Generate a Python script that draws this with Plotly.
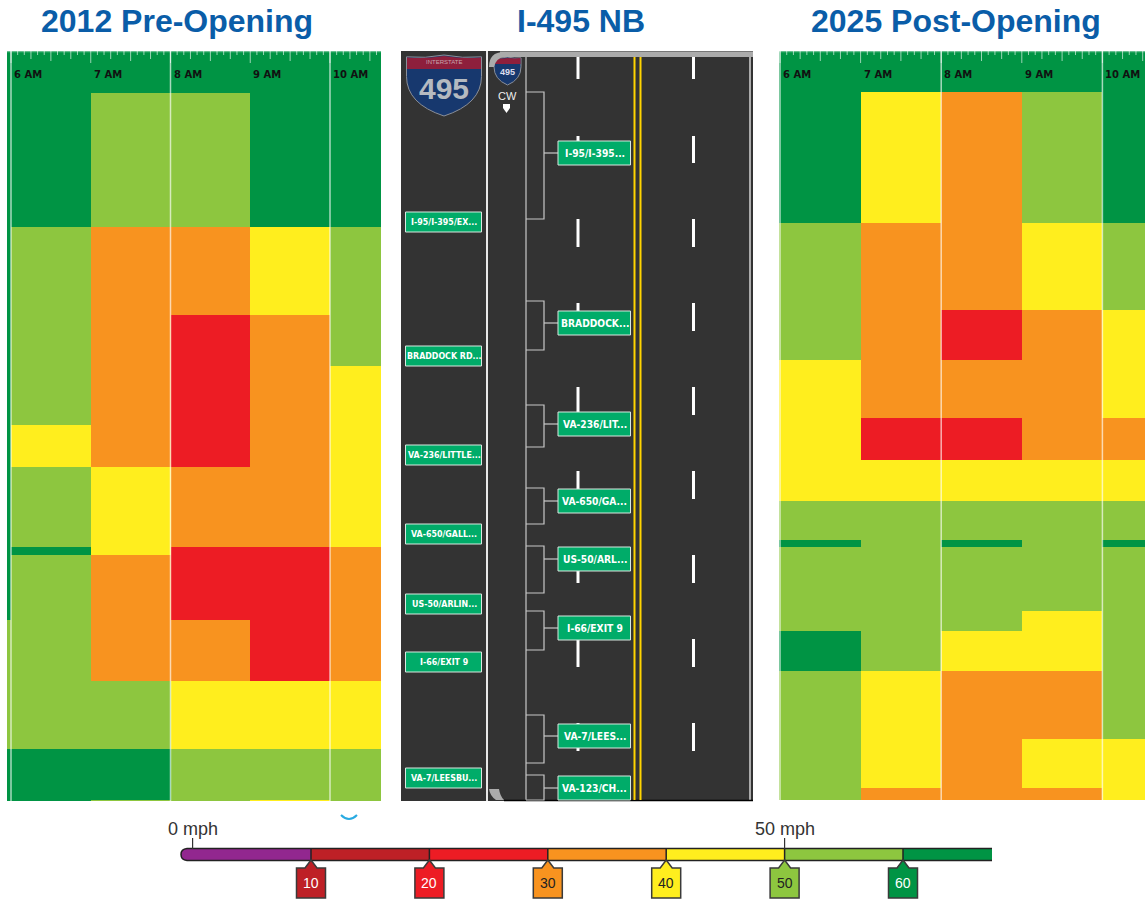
import plotly.graph_objects as go

W, H = 1145, 901
HOURS = [6, 7, 8, 9, 10]
HOUR_LABELS = ["6 AM", "7 AM", "8 AM", "9 AM", "10 AM"]
C_PURPLE, C_DKRED, C_RED, C_ORANGE, C_YELLOW, C_LTGREEN, C_GREEN = (
    "#92278F", "#BE2026", "#ED1C24", "#F8931F", "#FFEE1E", "#8DC63F", "#009444")
BIN_COLORS = [C_PURPLE, C_DKRED, C_RED, C_ORANGE, C_YELLOW, C_LTGREEN, C_GREEN]

# Speeds (mph, bin mid-point) by road position; each hour column: row ends + speeds
PRE_EARLY_ENDS = [569, 698, 750]
PRE_EARLY_MPH = [65, 55, 65]
PRE_6_ENDS = [176, 374, 416, 496, 504, 698, 750]
PRE_6_MPH = [65, 55, 45, 55, 65, 55, 65]
PRE_7_ENDS = [42, 176, 416, 504, 630, 698, 749, 750]
PRE_7_MPH = [65, 55, 35, 45, 35, 55, 65, 55]
PRE_8_ENDS = [42, 176, 264, 416, 496, 569, 630, 698, 750]
PRE_8_MPH = [65, 55, 35, 25, 35, 25, 35, 45, 55]
PRE_9_ENDS = [176, 264, 496, 630, 698, 749, 750]
PRE_9_MPH = [65, 45, 35, 25, 45, 55, 45]
PRE_10_ENDS = [176, 315, 496, 630, 698, 750]
PRE_10_MPH = [65, 55, 45, 35, 45, 55]

POST_6_ENDS = [172, 309, 450, 489, 496, 580, 620, 749]
POST_6_MPH = [65, 55, 45, 55, 65, 55, 65, 55]
POST_7_ENDS = [41, 172, 367, 409, 450, 620, 737, 749]
POST_7_MPH = [65, 45, 35, 25, 45, 55, 45, 35]
POST_8_ENDS = [41, 259, 309, 367, 409, 450, 489, 496, 580, 620, 749]
POST_8_MPH = [65, 35, 25, 35, 25, 45, 55, 65, 55, 45, 35]
POST_9_ENDS = [41, 172, 259, 409, 450, 560, 620, 688, 737, 749]
POST_9_MPH = [65, 55, 45, 35, 45, 55, 45, 35, 45, 35]
POST_10_ENDS = [172, 259, 367, 409, 450, 489, 496, 688, 749]
POST_10_MPH = [65, 55, 45, 35, 45, 55, 65, 55, 45]

# Road diagram
LEFT_SIGN_TEXT = ["I-95/I-395/EX...", "BRADDOCK RD...", "VA-236/LITTLE...", "VA-650/GALL...",
                  "US-50/ARLIN...", "I-66/EXIT 9", "VA-7/LEESBU..."]
LEFT_SIGN_POS = [222, 356, 455, 534, 604, 662, 778]
RIGHT_SIGN_TEXT = ["I-95/I-395...", "BRADDOCK...", "VA-236/LIT...", "VA-650/GA...",
                   "US-50/ARL...", "I-66/EXIT 9", "VA-7/LEES...", "VA-123/CH..."]
RIGHT_SIGN_POS = [153, 323, 424, 501, 559, 628, 736, 788]
BRACKET_TOP = [92, 301, 405, 488, 546, 611, 715, 775]
BRACKET_BOT = [219, 350, 447, 524, 593, 650, 763, 800]
DASH_TOP = [51, 136, 219, 303, 387, 471, 555, 639, 723]
DASH_BOT = [79, 163, 247, 331, 415, 499, 583, 667, 751]

# Speed legend
LEGEND_EDGES = [-0.98, 10, 20, 30, 40, 50, 60, 67.5]
LEGEND_MIDS = [5, 15, 25, 35, 45, 55, 65]
LEGEND_TICKS = [10, 20, 30, 40, 50, 60]
LEGEND_TICK_LABEL_COLORS = ["white", "white", "#222", "#222", "#222", "white"]
LEGEND_MARKS = [0, 50]
LEGEND_MARK_TEXT = ["0 mph", "50 mph"]


def matrix(columns):
    edges = sorted({0} | {e for ends, _ in columns for e in ends})
    z = []
    for lo in edges[:-1]:
        row = []
        for ends, mph in columns:
            row.append(next(v for e, v in zip(ends, mph) if lo < e))
        z.append(row)
    return edges, z


def colorscale():
    out = []
    for i, c in enumerate(BIN_COLORS):
        out += [[i / 7, c], [(i + 1) / 7, c]]
    return out


def hx(px):
    return px / W


def vy(px):
    return 1 - px / H


fig = go.Figure()
SCALE = colorscale()

# Panel geometry in canvas pixels
PANELS = [
    dict(x0=7, x1=381, y1=801, six=11, per=79.75, ax="x", ay="y"),
    dict(x0=779, x1=1145, y1=800, six=780, per=80.6, ax="x2", ay="y2"),
]
pre_cols = [(PRE_EARLY_ENDS, PRE_EARLY_MPH), (PRE_6_ENDS, PRE_6_MPH), (PRE_7_ENDS, PRE_7_MPH),
            (PRE_8_ENDS, PRE_8_MPH), (PRE_9_ENDS, PRE_9_MPH), (PRE_10_ENDS, PRE_10_MPH)]
post_cols = [(POST_6_ENDS, POST_6_MPH), (POST_6_ENDS, POST_6_MPH), (POST_7_ENDS, POST_7_MPH),
             (POST_8_ENDS, POST_8_MPH), (POST_9_ENDS, POST_9_MPH), (POST_10_ENDS, POST_10_MPH)]

annotations = []
for p, cols in zip(PANELS, [pre_cols, post_cols]):
    t0 = 6 + (p["x0"] - p["six"]) / p["per"]
    t1 = 6 + (p["x1"] - p["six"]) / p["per"]
    edges, z = matrix(cols)
    fig.add_trace(go.Heatmap(x=[t0] + HOURS + [t1], y=edges, z=z, zmin=0, zmax=70, colorscale=SCALE,
                             showscale=False, xaxis=p["ax"], yaxis=p["ay"], hoverinfo="skip"))
    # ruler ticks
    tx, ty = [], []
    m = int(t0 * 12) + 1
    while m / 12 < t1:
        mins = m * 5
        ln = 12 if mins % 60 == 0 else 10 if mins % 30 == 0 else 8 if mins % 15 == 0 else 4
        tx += [m / 12, m / 12, None]
        ty += [0, ln, None]
        m += 1
    fig.add_trace(go.Scatter(x=tx, y=ty, mode="lines", line=dict(color="rgba(255,255,255,0.6)", width=1),
                             xaxis=p["ax"], yaxis=p["ay"], hoverinfo="skip", showlegend=False))
    fig.add_trace(go.Scatter(x=[t0, t1], y=[0.5, 0.5], mode="lines",
                             line=dict(color="rgba(255,255,255,0.4)", width=1.5),
                             xaxis=p["ax"], yaxis=p["ay"], hoverinfo="skip", showlegend=False))
    # full-height lines at even hours
    lx, ly = [], []
    for h in HOURS[::2]:
        lx += [h, h, None]
        ly += [0, 750, None]
    fig.add_trace(go.Scatter(x=lx, y=ly, mode="lines", line=dict(color="rgba(255,255,255,0.65)", width=1.5),
                             xaxis=p["ax"], yaxis=p["ay"], hoverinfo="skip", showlegend=False))
    for h, lab in zip(HOURS, HOUR_LABELS):
        annotations.append(dict(x=h, y=24, xref=p["ax"], yref=p["ay"], text=lab, showarrow=False,
                                xanchor="left", xshift=1, yanchor="middle",
                                font=dict(family="DejaVu Sans", size=10, color="#111", weight="bold")))

# Legend bar
fig.add_trace(go.Heatmap(x=LEGEND_EDGES, y=[0, 1], z=[LEGEND_MIDS], zmin=0, zmax=70, colorscale=SCALE,
                         showscale=False, xaxis="x3", yaxis="y3", hoverinfo="skip"))
# Canvas overlay axes
fig.add_trace(go.Scatter(x=[0], y=[0], mode="markers", marker=dict(opacity=0), xaxis="x4", yaxis="y4",
                         hoverinfo="skip", showlegend=False))

no_axis = dict(visible=False, fixedrange=True)
lay = dict(
    width=W, height=H, margin=dict(l=0, r=0, t=0, b=0), paper_bgcolor="white", plot_bgcolor="rgba(0,0,0,0)",
    showlegend=False, font=dict(family="Liberation Sans"),
    xaxis4=dict(no_axis, domain=[0, 1], range=[0, W], anchor="y4"),
    yaxis4=dict(no_axis, domain=[0, 1], range=[H, 0], anchor="x4"),
    xaxis3=dict(no_axis, domain=[hx(181), hx(992)], range=[LEGEND_EDGES[0], LEGEND_EDGES[-1]], anchor="y3"),
    yaxis3=dict(no_axis, domain=[vy(860), vy(849)], range=[0, 1], anchor="x3"),
)
for i, p in enumerate(PANELS):
    s = "" if i == 0 else "2"
    t0 = 6 + (p["x0"] - p["six"]) / p["per"]
    t1 = 6 + (p["x1"] - p["six"]) / p["per"]
    lay["xaxis" + s] = dict(no_axis, domain=[hx(p["x0"]), hx(p["x1"])], range=[t0, t1], anchor="y" + s)
    lay["yaxis" + s] = dict(no_axis, domain=[vy(p["y1"]), vy(51)], range=[p["y1"] - 51, 0], anchor="x" + s)

shapes = []


def rect(x0, y0, x1, y1, fill, line=None, lw=0):
    shapes.append(dict(type="rect", xref="x4", yref="y4", x0=x0, y0=y0, x1=x1, y1=y1, fillcolor=fill,
                       line=dict(color=line or fill, width=lw), layer="above"))


def seg(x0, y0, x1, y1, color, w):
    shapes.append(dict(type="line", xref="x4", yref="y4", x0=x0, y0=y0, x1=x1, y1=y1,
                       line=dict(color=color, width=w), layer="above"))


def path(d, fill="rgba(0,0,0,0)", line="rgba(0,0,0,0)", lw=0):
    shapes.append(dict(type="path", xref="x4", yref="y4", path=d, fillcolor=fill,
                       line=dict(color=line, width=lw), layer="above"))


def shield(x0, x1, y0, y1, band):
    mx = (x0 + x1) / 2
    w = x1 - x0
    h = y1 - y0
    outline = (f"M {x0} {y0+h*0.03} Q {mx-w*0.25} {y0+h*0.06} {mx} {y0} Q {mx+w*0.25} {y0+h*0.06} {x1} {y0+h*0.03} "
               f"L {x1} {y0+h*0.35} Q {x1} {y0+h*0.8} {mx} {y1} Q {x0} {y0+h*0.8} {x0} {y0+h*0.35} Z")
    path(outline, fill="#17386E", line="#8A8F99", lw=1)
    path(f"M {x0+0.5} {y0+h*0.04} Q {mx-w*0.25} {y0+h*0.07} {mx} {y0+1} Q {mx+w*0.25} {y0+h*0.07} {x1-0.5} {y0+h*0.04} "
         f"L {x1-0.5} {y0+band} L {x0+0.5} {y0+band} Z", fill="#8E1F3C")


ROAD = "#333333"
GRAY = "#ABABAB"
rect(401, 51, 486, 801, ROAD)
rect(488, 51, 753, 801, ROAD)
seg(487, 51, 487, 801, "#E8E8E8", 2)
seg(526, 57, 526, 801, GRAY, 1.5)
seg(750, 57, 750, 800, GRAY, 2)
shield(406.5, 481.5, 55, 116, 14)
shield(494, 521, 57, 85, 7)
rect(500, 52, 753, 57, GRAY)
seg(500, 51.5, 753, 51.5, "#777", 1)
seg(504, 800.5, 753, 800.5, "#000", 1.5)
for x in [634.5, 640.5]:
    seg(x, 57, x, 800, "#FFD400", 2)
for x in [578, 693.5]:
    for a, b in zip(DASH_TOP, DASH_BOT):
        seg(x, max(a, 57), x, b, "white", 3)
path("M 489 67 Q 489 52 504 52 L 504 57 Q 496 58 494 67 Z", fill=GRAY)
path("M 489 789 L 499 789 Q 500 796 504 800 L 496 800 Q 490 796 489 789 Z", fill=GRAY)
path("M 503 104 L 510 104 L 510 108 L 506.5 113 L 503 108 Z", fill="white")

SIGN = "#00AC69"
for pos, _ in zip(LEFT_SIGN_POS, LEFT_SIGN_TEXT):
    rect(405.5, pos - 10, 481.5, pos + 10, SIGN, "#D8E8E0", 1)
for top, bot, pos in zip(BRACKET_TOP, BRACKET_BOT, RIGHT_SIGN_POS):
    path(f"M 526 {top} L 544 {top} L 544 {bot} L 526 {bot}", line="#C8C8C8", lw=1.2)
    seg(544, pos, 558, pos, "#C8C8C8", 1.2)
for pos, _ in zip(RIGHT_SIGN_POS, RIGHT_SIGN_TEXT):
    rect(558, pos - 12, 630.5, min(pos + 12, 800), SIGN, "#D8E8E0", 1)

# Legend outline, tags and marks
k = (903 - 311) / 50.0
px_of = lambda v: 311 + (v - 10) * k
path("M 181 848 L 188 848 Q 180.5 848.5 180.5 854.5 Q 180.5 860.5 188 861 L 181 861 Z", fill="white")
path("M 992 848.5 L 187 848.5 Q 181 849 181 854.5 Q 181 860 187 860.5 L 992 860.5", line="#222", lw=1.5)
for v, col, tc in zip(LEGEND_TICKS, BIN_COLORS[1:], LEGEND_TICK_LABEL_COLORS):
    x = px_of(v)
    seg(x, 849, x, 860, "#222", 1.5)
    path(f"M {x} 860 L {x+6} 868 L {x+14.5} 868 L {x+14.5} 898 L {x-14.5} 898 L {x-14.5} 868 L {x-6} 868 Z",
         fill=col, line="#3A3A3A", lw=1.5)
    annotations.append(dict(x=x, y=883, xref="x4", yref="y4", text=str(v), showarrow=False,
                            font=dict(family="Liberation Sans", size=14, color=tc)))
for v, lab in zip(LEGEND_MARKS, LEGEND_MARK_TEXT):
    x = px_of(v)
    seg(x, 838, x, 849, "#333", 1.2)
    annotations.append(dict(x=x, y=829, xref="x4", yref="y4", text=lab, showarrow=False,
                            font=dict(family="Liberation Sans", size=18, color="#333")))
path("M 341 815 Q 349 823 357 815", line="#29ABE2", lw=2)

# Titles
for x, t in [(177, "2012 Pre-Opening"), (581, "I-495 NB"), (956, "2025 Post-Opening")]:
    annotations.append(dict(x=x, y=21, xref="x4", yref="y4", text=t, showarrow=False,
                            font=dict(family="Liberation Sans", size=32, color="#0A5DA8", weight="bold")))

NARROW = "DejaVu Sans Condensed, Roboto, Liberation Sans"
for pos, t in zip(LEFT_SIGN_POS, LEFT_SIGN_TEXT):
    annotations.append(dict(x=444, y=pos, xref="x4", yref="y4", text=t, showarrow=False,
                            font=dict(family=NARROW, size=8.8, color="white", weight="bold")))
for pos, t in zip(RIGHT_SIGN_POS, RIGHT_SIGN_TEXT):
    annotations.append(dict(x=594.5, y=pos, xref="x4", yref="y4", text=t, showarrow=False,
                            font=dict(family=NARROW, size=10.2, color="white", weight="bold")))
annotations.append(dict(x=444, y=88, xref="x4", yref="y4", text="495", showarrow=False,
                        font=dict(family="Liberation Sans", size=30, color="#B5BAC0", weight="bold")))
annotations.append(dict(x=444, y=62, xref="x4", yref="y4", text="INTERSTATE", showarrow=False,
                        font=dict(family="Liberation Sans", size=6, color="#C9A6AE")))
annotations.append(dict(x=507.5, y=72, xref="x4", yref="y4", text="495", showarrow=False,
                        font=dict(family="Liberation Sans", size=9, color="#DDE", weight="bold")))
annotations.append(dict(x=507, y=96, xref="x4", yref="y4", text="CW", showarrow=False,
                        font=dict(family="Liberation Sans", size=11, color="#EEE")))

lay["shapes"] = shapes
lay["annotations"] = annotations
fig.update_layout(**lay)
fig.write_html("out.html", config=dict(displayModeBar=False),
               post_script="document.body.style.margin='0';document.body.style.overflow='hidden';")
